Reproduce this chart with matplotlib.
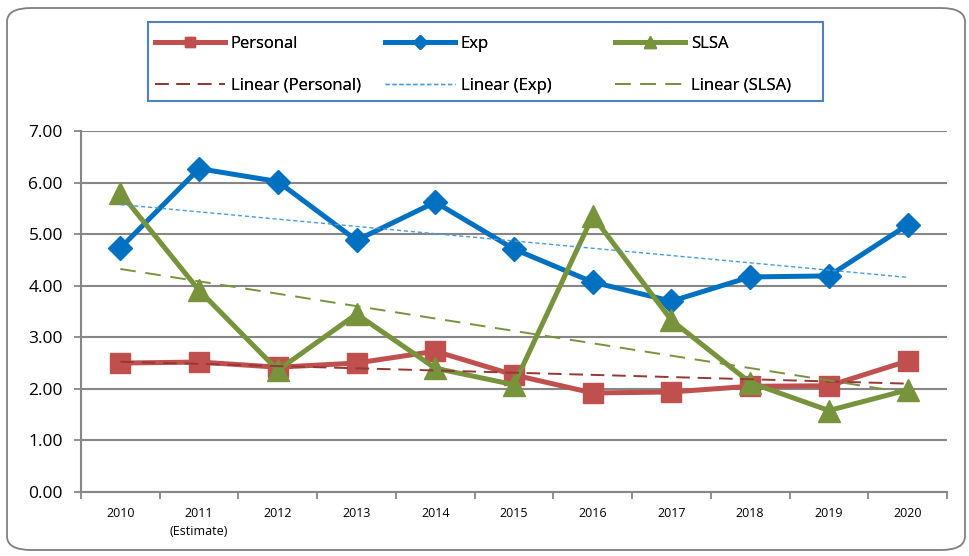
import numpy as np
import matplotlib
matplotlib.use("Agg")
import matplotlib.pyplot as plt
from matplotlib.patches import FancyBboxPatch, Rectangle

years = ["2010", "2011\n(Estimate)", "2012", "2013", "2014", "2015", "2016", "2017", "2018", "2019", "2020"]
personal = [2.50, 2.52, 2.42, 2.50, 2.73, 2.27, 1.92, 1.94, 2.05, 2.06, 2.54]
exp = [4.73, 6.27, 6.02, 4.88, 5.62, 4.71, 4.07, 3.70, 4.17, 4.19, 5.18]
slsa = [5.80, 3.91, 2.36, 3.45, 2.40, 2.08, 5.35, 3.33, 2.12, 1.58, 1.98]

plt.rcParams['font.family'] = ['Open Sans', 'DejaVu Sans']

fig = plt.figure(figsize=(9.69, 5.56), dpi=100)
ax = fig.add_axes([81/969, 1-492/556, (947-81)/969, (492-131)/556])

x = np.arange(len(years))
c_p, c_e, c_s = "#C0504D", "#0070C0", "#77933C"

lp, = ax.plot(x, personal, color=c_p, lw=3.6, marker='s', ms=14, zorder=3, label="Personal")
le, = ax.plot(x, exp, color=c_e, lw=3.6, marker='D', ms=12.5, zorder=3, label="Exp")
ls, = ax.plot(x, slsa, color=c_s, lw=3.6, marker='^', ms=16, zorder=3, label="SLSA")

def trend(v):
    k, b = np.polyfit(x, v, 1)
    return k * x + b

tp, = ax.plot(x, trend(personal), color="#953735", lw=1.4, ls=(0, (7, 4)), zorder=4, label="Linear (Personal)")
te, = ax.plot(x, trend(exp), color="#4A9BDC", lw=1.0, ls=(0, (3, 2)), zorder=4, label="Linear (Exp)")
ts, = ax.plot(x, trend(slsa), color="#77933C", lw=1.4, ls=(0, (8, 5)), zorder=4, label="Linear (SLSA)")

ax.set_xlim(-0.5, len(years) - 0.5)
ax.set_ylim(0, 7)
ax.set_yticks(np.arange(0, 7.01, 1))
ax.set_yticklabels([f"{v:.2f}" for v in np.arange(0, 7.01, 1)], fontsize=12.5)
ax.yaxis.grid(True, color="#868686", lw=1.5)
ax.set_axisbelow(True)
ax.set_xticks(x)
ax.set_xticklabels(years, fontsize=9, linespacing=1.45)
ax.set_xticks(np.arange(-0.5, len(years), 1), minor=True)
ax.tick_params(axis='x', which='major', length=0, pad=11)
ax.tick_params(axis='x', which='minor', length=5, color="#868686", width=1.3)
ax.tick_params(axis='y', length=5, color="#868686", width=1.3, pad=8)
for s in ['top', 'right']:
    ax.spines[s].set_visible(False)
for s in ['left', 'bottom']:
    ax.spines[s].set_color("#868686")
    ax.spines[s].set_linewidth(1.5)

# legend: three single-column legends at fixed positions inside one box
W, H = 969, 556
fig.patches.append(Rectangle((148/W, 1-101/H), 675/W, 79/H, transform=fig.transFigure,
                             fill=False, edgecolor="#4F81BD", lw=1.5, zorder=5))
for (h1, h2), x0 in zip([(lp, tp), (le, te), (ls, ts)], [155, 385, 615]):
    lg = fig.legend(handles=[h1, h2], labels=[h1.get_label(), h2.get_label()], ncol=1,
                    loc='upper left', bbox_to_anchor=(x0/W, 1-36/H), frameon=False,
                    fontsize=12, handlelength=4.2, handletextpad=0.35, markerscale=0.55,
                    borderaxespad=0, borderpad=0, labelspacing=1.55)
    fig.add_artist(lg)

border = FancyBboxPatch((7/W, 6/H), 958/W, 542/H, boxstyle="round,pad=0,rounding_size=0.025",
                        transform=fig.transFigure, fill=False, edgecolor="#7F7F7F", lw=1.3)
fig.patches.append(border)

fig.savefig("out.png", dpi=100)
